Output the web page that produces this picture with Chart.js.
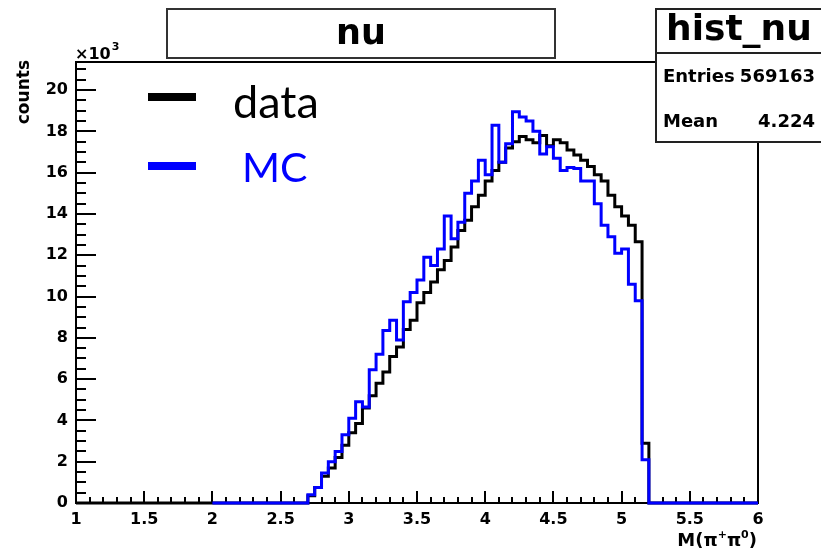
<!DOCTYPE html>
<html><head><meta charset="utf-8">
<script src="https://cdn.jsdelivr.net/npm/chart.js@4.4.1/dist/chart.umd.min.js"></script>
<style>html,body{margin:0;padding:0;background:#fff}#wrap{width:821px;height:552px;position:relative}</style>
</head><body><div id="wrap"><canvas id="c"></canvas></div>
<script>
// ---- histogram data: bin lower edges (bin width 0.05) and counts ----
const binLow = [2.70,2.75,2.80,2.85,2.90,2.95,3.00,3.05,3.10,3.15,
                3.20,3.25,3.30,3.35,3.40,3.45,3.50,3.55,3.60,3.65,
                3.70,3.75,3.80,3.85,3.90,3.95,4.00,4.05,4.10,4.15,
                4.20,4.25,4.30,4.35,4.40,4.45,4.50,4.55,4.60,4.65,
                4.70,4.75,4.80,4.85,4.90,4.95,5.00,5.05,5.10,5.15];
const binWidth = 0.05;
const dataCounts = [350,750,1300,1700,2200,2800,3400,3850,4600,5200,
                    5800,6350,7100,7550,8400,8850,9700,10200,10700,11300,
                    11750,12400,13200,13700,14350,14900,15600,16100,16500,17200,
                    17500,17750,17600,17450,17800,17300,17600,17450,17100,16850,
                    16600,16300,15900,15600,14900,14350,13900,13450,12650,2900];
const mcCounts   = [400,750,1450,2000,2500,3300,4100,4900,4650,6450,
                    7200,8350,8850,7900,9750,10200,10800,11900,11500,12300,
                    13900,12800,13600,15000,15600,16600,15900,18300,16500,17400,
                    18950,18700,18500,18000,16900,17250,16700,16100,16250,16200,
                    15600,15600,14500,13450,12900,12100,12300,10600,9800,2100];
const dataRange = [1.0, 6.0];
const mcRange = [2.0, 6.0];
const seriesNames = ['data', 'MC'];
const xTickValues = [1,1.5,2,2.5,3,3.5,4,4.5,5,5.5,6];
const xTickLabels = ['1','1.5','2','2.5','3','3.5','4','4.5','5','5.5','6'];
const yTickValues = [0,2000,4000,6000,8000,10000,12000,14000,16000,18000,20000];
const yTickLabels = ['0','2','4','6','8','10','12','14','16','18','20'];
const histTitle = 'nu';
const statName = 'hist_nu';
const statEntries = '569163';
const statMean = '4.224';

function histPoints(lows, counts, range){
  const pts = [{x: range[0], y: 0}];
  lows.forEach((x, i) => pts.push({x: x, y: counts[i]}));
  pts.push({x: lows[lows.length-1] + binWidth, y: 0});
  pts.push({x: range[1], y: 0});
  return pts;
}

const BOLD = 'DejaVu Sans';
const rootPlugin = {
  id: 'rootStyle',
  beforeDatasetsDraw(chart){
    const {ctx, chartArea: a, scales: {x, y}} = chart;
    ctx.save();
    ctx.strokeStyle = '#000'; ctx.lineWidth = 2;
    ctx.beginPath();
    for (let i = 0; i <= 50; i++){
      const px = Math.round(x.getPixelForValue(x.min + i*0.1));
      const len = (i % 5 === 0) ? 12 : 6;
      ctx.moveTo(px, a.bottom); ctx.lineTo(px, a.bottom - len);
    }
    for (let i = 0; i*500 <= y.max; i++){
      const py = Math.round(y.getPixelForValue(i*500));
      const len = (i % 4 === 0) ? 20 : 10;
      ctx.moveTo(a.left, py); ctx.lineTo(a.left + len, py);
    }
    ctx.stroke();
    ctx.strokeRect(a.left, a.top, a.right - a.left, a.bottom - a.top);
    ctx.restore();
  },
  afterDraw(chart){
    const {ctx} = chart;
    ctx.save();
    // title box
    ctx.fillStyle = '#fff'; ctx.fillRect(167, 9, 388, 49);
    ctx.strokeStyle = '#333'; ctx.lineWidth = 2; ctx.strokeRect(167, 9, 388, 49);
    ctx.fillStyle = '#000'; ctx.textBaseline = 'alphabetic';
    ctx.font = 'bold 35px "' + BOLD + '"'; ctx.textAlign = 'center';
    ctx.fillText(histTitle, 361, 44);
    // stats box
    ctx.fillStyle = '#fff'; ctx.fillRect(656, 9, 180, 133);
    ctx.strokeStyle = '#222'; ctx.strokeRect(656, 9, 180, 133);
    ctx.beginPath(); ctx.moveTo(656, 53); ctx.lineTo(830, 53); ctx.stroke();
    ctx.fillStyle = '#000';
    ctx.font = 'bold 36px "' + BOLD + '"'; ctx.textAlign = 'left';
    ctx.fillText(statName, 666, 40);
    ctx.font = 'bold 18px "' + BOLD + '"';
    ctx.fillText('Entries', 663, 82);
    ctx.fillText('Mean', 663, 127);
    ctx.textAlign = 'right';
    ctx.fillText(statEntries, 815, 82);
    ctx.fillText(statMean, 815, 127);
    // y title
    ctx.save();
    ctx.translate(29, 60); ctx.rotate(-Math.PI/2);
    ctx.textAlign = 'right'; ctx.font = 'bold 17px "' + BOLD + '"';
    ctx.fillText('counts', 0, 0);
    ctx.restore();
    // x10^3
    ctx.textAlign = 'left';
    ctx.font = 'bold 16px "' + BOLD + '"';
    ctx.fillText('\u00d710', 75, 59);
    const w1 = ctx.measureText('\u00d710').width;
    ctx.font = 'bold 11px "' + BOLD + '"';
    ctx.fillText('3', 75 + w1 + 1, 50);
    // x title
    const parts = [['M(\u03c0', 18, 0], ['+', 11, -8], ['\u03c0', 18, 0], ['0', 11, -8], [')', 18, 0]];
    let tot = 0;
    parts.forEach(p => { ctx.font = 'bold ' + p[1] + 'px "' + BOLD + '"'; p.push(ctx.measureText(p[0]).width); tot += p[3]; });
    let cx = 757 - tot;
    parts.forEach(p => { ctx.font = 'bold ' + p[1] + 'px "' + BOLD + '"'; ctx.fillText(p[0], cx, 546 + p[2]); cx += p[3]; });
    // legend
    ctx.lineWidth = 8; ctx.lineCap = 'butt';
    ctx.strokeStyle = '#000'; ctx.beginPath(); ctx.moveTo(148, 97); ctx.lineTo(196, 97); ctx.stroke();
    ctx.strokeStyle = '#0000ff'; ctx.beginPath(); ctx.moveTo(148, 166); ctx.lineTo(196, 166); ctx.stroke();
    ctx.font = '45px Lato'; ctx.fillStyle = '#000'; ctx.fillText(seriesNames[0], 233, 118);
    ctx.font = '41px Lato'; ctx.fillStyle = '#0000ff'; ctx.fillText(seriesNames[1], 242, 182);
    ctx.restore();
  }
};

new Chart(document.getElementById('c'), {
  type: 'line',
  data: {
    datasets: [
      {label: seriesNames[0], data: histPoints(binLow, dataCounts, dataRange), borderColor: '#000000',
       borderWidth: 3, stepped: 'before', pointRadius: 0, fill: false, order: 2, clip: false},
      {label: seriesNames[1], data: histPoints(binLow, mcCounts, mcRange), borderColor: '#0000ff',
       borderWidth: 3, stepped: 'before', pointRadius: 0, fill: false, order: 1, clip: false}
    ]
  },
  options: {
    responsive: true, maintainAspectRatio: false, animation: false, devicePixelRatio: 1,
    layout: {padding: {left: 0, right: 63, top: 62, bottom: 0}},
    plugins: {legend: {display: false}, tooltip: {enabled: false}},
    scales: {
      x: {type: 'linear', min: 1, max: 6,
          grid: {display: false, drawTicks: false}, border: {display: false},
          afterBuildTicks: s => { s.ticks = xTickValues.map(v => ({value: v})); },
          ticks: {autoSkip: false, maxRotation: 0, padding: 7,
                  color: '#000', font: {family: BOLD, weight: 'bold', size: 16},
                  callback: (v, i) => xTickLabels[i]},
          afterFit: s => { s.height = 49; }},
      y: {type: 'linear', min: 0, max: 21360,
          grid: {display: false, drawTicks: false}, border: {display: false},
          afterBuildTicks: s => { s.ticks = yTickValues.map(v => ({value: v})); },
          ticks: {autoSkip: false, padding: 8,
                  color: '#000', font: {family: BOLD, weight: 'bold', size: 16},
                  callback: (v, i) => yTickLabels[i]},
          afterFit: s => { s.width = 76; }}
    }
  },
  plugins: [rootPlugin]
});
</script>
</body></html>
